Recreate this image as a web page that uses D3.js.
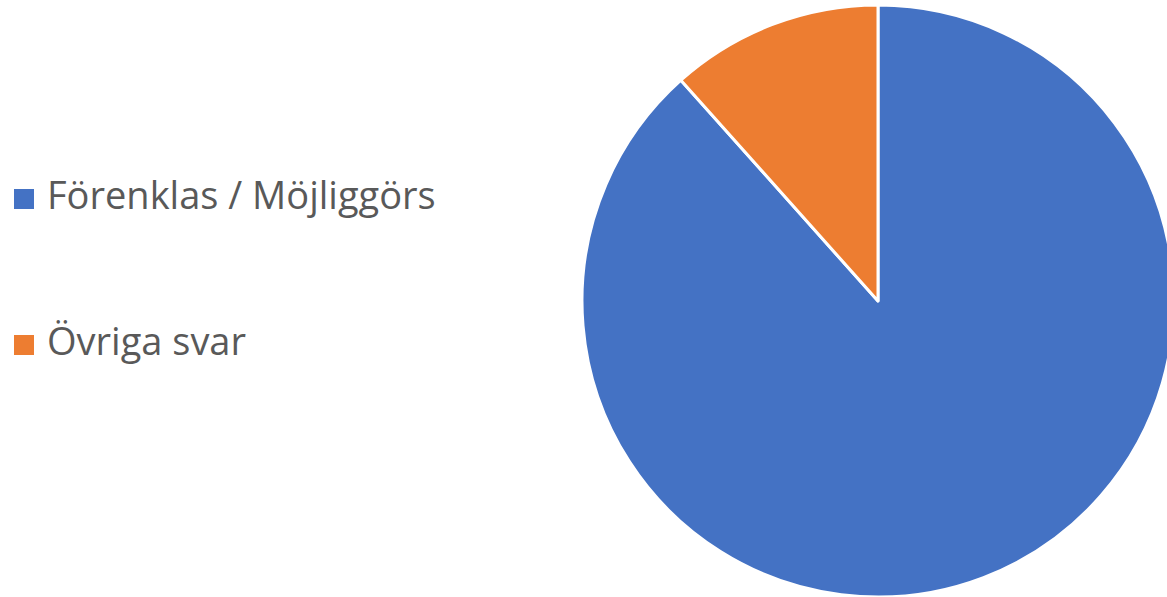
<!DOCTYPE html>
<html>
<head>
<meta charset="utf-8">
<script src="https://cdn.jsdelivr.net/npm/d3@7"></script>
<style>
  html, body { margin: 0; padding: 0; background: #fff; }
  svg { display: block; }
</style>
</head>
<body>
<div id="chart"></div>
<script>
const categories = ['Förenklas / Möjliggörs', 'Övriga svar'];
const values = [88.4, 11.6];
const colors = ['#4472C4', '#ED7D31'];

const width = 1167, height = 597;
const cx = 878, cy = 301, r = 296;

const svg = d3.select('#chart').append('svg')
  .attr('width', width)
  .attr('height', height);

const pie = d3.pie().sort(null).value(d => d)(values);
const arc = d3.arc().innerRadius(0).outerRadius(r);

svg.append('g')
  .attr('transform', `translate(${cx},${cy})`)
  .selectAll('path')
  .data(pie)
  .enter()
  .append('path')
  .attr('d', arc)
  .attr('fill', (d, i) => colors[i])
  .attr('stroke', '#fff')
  .attr('stroke-width', 3)
  .attr('stroke-linejoin', 'round');

// legend
const legendY = d3.scalePoint().domain(categories).range([199, 345]);

const items = svg.append('g').selectAll('g')
  .data(categories)
  .enter()
  .append('g')
  .attr('transform', d => `translate(0,${legendY(d)})`);

items.append('rect')
  .attr('x', 14)
  .attr('y', -10)
  .attr('width', 20)
  .attr('height', 20)
  .attr('fill', (d, i) => colors[i]);

items.append('text')
  .attr('x', 47)
  .attr('y', 10)
  .attr('font-family', '"Open Sans", sans-serif')
  .attr('font-size', 38)
  .attr('fill', '#595959')
  .text(d => d);
</script>
</body>
</html>
